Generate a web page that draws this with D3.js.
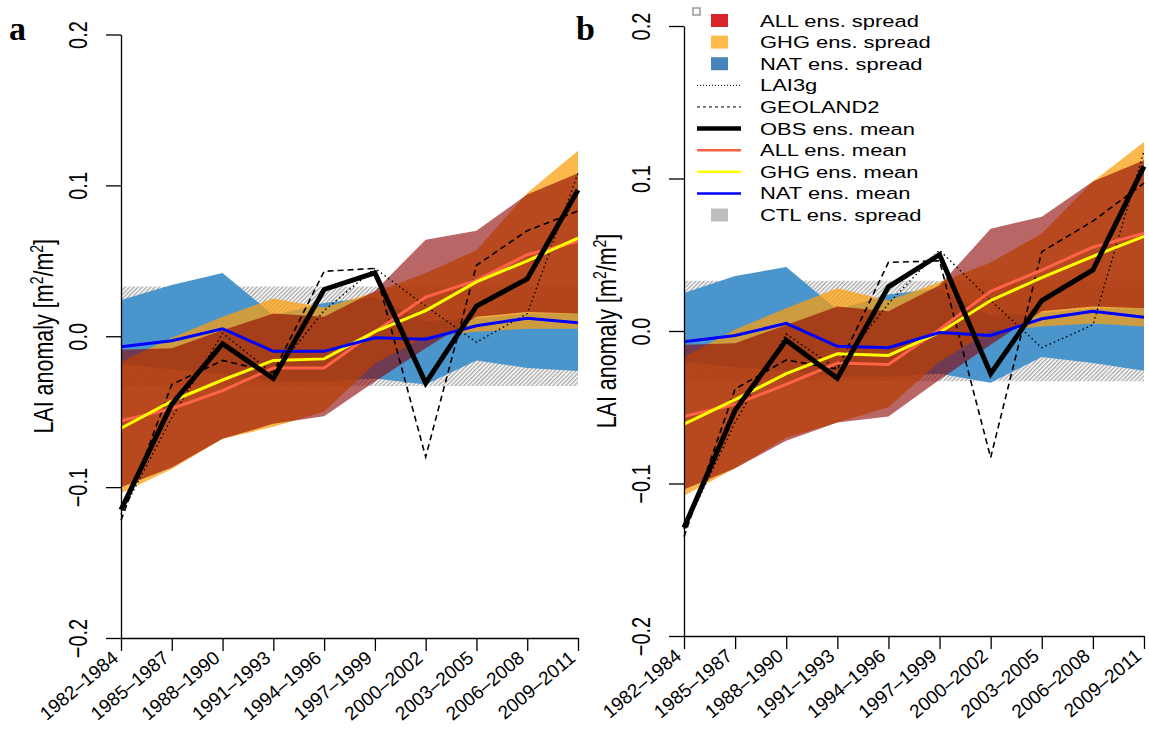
<!DOCTYPE html>
<html>
<head>
<meta charset="utf-8">
<title>LAI anomaly</title>
<script src="https://cdn.jsdelivr.net/npm/d3@7"></script>
<style>
  body { margin: 0; background: #fff; }
  text { font-family: "Liberation Sans", Arial, Helvetica, sans-serif; fill: #000; }
  .panel-letter { font-family: "Liberation Serif", "Times New Roman", serif; font-weight: bold; font-size: 34px; }
</style>
</head>
<body>
<script>
// periods on the x axis
var periods = ["1982\u20131984", "1985\u20131987", "1988\u20131990", "1991\u20131993", "1994\u20131996",
               "1997\u20131999", "2000\u20132002", "2003\u20132005", "2006\u20132008", "2009\u20132011"];
var yTicks = [-0.2, -0.1, 0, 0.1, 0.2];
var yTickLabels = ["\u22120.2", "\u22120.1", "0.0", "0.1", "0.2"];

// panel a
var obsA     = [-0.115, -0.045, -0.005, -0.028, 0.031, 0.042, -0.031, 0.020, 0.038, 0.097];
var lai3gA   = [-0.118, -0.054, 0.002, -0.025, 0.017, 0.045, 0.020, -0.004, 0.015, 0.108];
var geolandA = [-0.122, -0.032, -0.016, -0.024, 0.043, 0.045, -0.080, 0.047, 0.070, 0.083];
var allMeanA = [-0.056, -0.048, -0.036, -0.021, -0.021, 0.003, 0.026, 0.037, 0.054, 0.063];
var ghgMeanA = [-0.061, -0.043, -0.029, -0.016, -0.015, 0.003, 0.017, 0.036, 0.050, 0.065];
var natMeanA = [-0.007, -0.003, 0.005, -0.010, -0.010, -0.001, -0.002, 0.007, 0.012, 0.009];
var allHiA   = [-0.009, -0.008, 0.004, 0.015, 0.013, 0.030, 0.064, 0.070, 0.094, 0.108];
var allLoA   = [-0.100, -0.087, -0.068, -0.058, -0.053, -0.030, -0.008, 0.013, 0.016, 0.015];
var ghgHiA   = [-0.017, -0.001, 0.013, 0.025, 0.019, 0.029, 0.042, 0.057, 0.095, 0.123];
var ghgLoA   = [-0.104, -0.088, -0.068, -0.060, -0.050, -0.018, 0.000, 0.003, 0.005, 0.005];
var natHiA   = [0.024, 0.034, 0.042, 0.014, 0.022, 0.026, 0.010, 0.012, 0.015, 0.015];
var natLoA   = [-0.018, -0.022, -0.025, -0.030, -0.030, -0.028, -0.032, -0.016, -0.021, -0.023];

// panel b
var obsB     = [-0.129, -0.052, -0.006, -0.031, 0.029, 0.050, -0.028, 0.020, 0.040, 0.108];
var lai3gB   = [-0.130, -0.060, -0.002, -0.025, 0.018, 0.053, 0.020, -0.011, 0.004, 0.118];
var geolandB = [-0.135, -0.038, -0.019, -0.025, 0.045, 0.046, -0.083, 0.052, 0.072, 0.097];
var allMeanB = [-0.056, -0.048, -0.035, -0.021, -0.022, 0.001, 0.026, 0.040, 0.055, 0.064];
var ghgMeanB = [-0.061, -0.045, -0.028, -0.015, -0.016, -0.001, 0.020, 0.035, 0.049, 0.062];
var natMeanB = [-0.007, -0.003, 0.005, -0.010, -0.011, -0.001, -0.003, 0.008, 0.013, 0.009];
var allHiB   = [-0.009, -0.008, 0.004, 0.016, 0.013, 0.030, 0.067, 0.075, 0.098, 0.112];
var allLoB   = [-0.104, -0.090, -0.072, -0.060, -0.056, -0.032, -0.009, 0.013, 0.016, 0.015];
var ghgHiB   = [-0.017, 0.001, 0.015, 0.028, 0.020, 0.032, 0.045, 0.064, 0.098, 0.124];
var ghgLoB   = [-0.108, -0.090, -0.070, -0.060, -0.050, -0.020, 0.000, 0.003, 0.005, 0.003];
var natHiB   = [0.025, 0.036, 0.042, 0.014, 0.024, 0.028, 0.010, 0.012, 0.015, 0.015];
var natLoB   = [-0.020, -0.024, -0.026, -0.030, -0.030, -0.028, -0.034, -0.017, -0.021, -0.026];

// CTL spread band (same in both panels)
var ctlHi = [0.033, 0.033, 0.033, 0.033, 0.033, 0.033, 0.033, 0.033, 0.033, 0.033];
var ctlLo = [-0.033, -0.033, -0.033, -0.033, -0.033, -0.033, -0.033, -0.033, -0.033, -0.033];

var legendLabels = ["ALL ens. spread", "GHG ens. spread", "NAT ens. spread", "LAI3g", "GEOLAND2",
                    "OBS ens. mean", "ALL ens. mean", "GHG ens. mean", "NAT ens. mean", "CTL ens. spread"];

var SX = 1.3; // text in the picture is stretched sideways

var svg = d3.select("body").append("svg")
  .attr("width", 1149)
  .attr("height", 731);

var defs = svg.append("defs");
var pat = defs.append("pattern")
  .attr("id", "hatch")
  .attr("patternUnits", "userSpaceOnUse")
  .attr("width", 3)
  .attr("height", 3)
  .attr("patternTransform", "rotate(45)");
pat.append("rect").attr("width", 3).attr("height", 3).attr("fill", "#fff");
pat.append("rect").attr("width", 1.4).attr("height", 3).attr("fill", "#a8a8a8");

function drawPanel(p) {
  var g = svg.append("g");
  var x = d3.scalePoint().domain(periods).range(p.xr);
  var y = d3.scaleLinear().domain([-0.2, 0.2]).range(p.yr);

  function band(hi, lo) {
    return d3.area()
      .x(function(d, i) { return x(periods[i]); })
      .y0(function(d, i) { return y(lo[i]); })
      .y1(function(d, i) { return y(hi[i]); })(hi);
  }
  var line = d3.line()
    .x(function(d, i) { return x(periods[i]); })
    .y(function(d) { return y(d); });

  g.append("path").attr("d", band(ctlHi, ctlLo)).attr("fill", "url(#hatch)");
  g.append("path").attr("d", band(p.natHi, p.natLo)).attr("fill", "#4a95cc");
  g.append("path").attr("d", band(p.ghgHi, p.ghgLo)).attr("fill", "#fb9f11").attr("fill-opacity", 0.75);
  g.append("path").attr("d", band(p.allHi, p.allLo)).attr("fill", "#8b0000").attr("fill-opacity", 0.6);

  g.append("path").attr("d", line(p.lai3g)).attr("fill", "none").attr("stroke", "#000")
    .attr("stroke-width", 1.4).attr("stroke-dasharray", "1.5,3");
  g.append("path").attr("d", line(p.geoland)).attr("fill", "none").attr("stroke", "#000")
    .attr("stroke-width", 1.6).attr("stroke-dasharray", "6,4");
  g.append("path").attr("d", line(p.allMean)).attr("fill", "none").attr("stroke", "#ff6347").attr("stroke-width", 3);
  g.append("path").attr("d", line(p.ghgMean)).attr("fill", "none").attr("stroke", "#ffff00").attr("stroke-width", 3);
  g.append("path").attr("d", line(p.natMean)).attr("fill", "none").attr("stroke", "#0000ff").attr("stroke-width", 3);
  g.append("path").attr("d", line(p.obs)).attr("fill", "none").attr("stroke", "#000")
    .attr("stroke-width", 5).attr("stroke-linejoin", "miter");

  // y axis
  var ya = g.append("g")
    .attr("transform", "translate(" + p.xr[0] + ",0)")
    .call(d3.axisLeft(y).tickValues(yTicks).tickSize(15).tickSizeOuter(0)
      .tickFormat(function(d, i) { return yTickLabels[i]; }));
  ya.selectAll("path, line").attr("stroke", "#000").attr("stroke-width", 1.3);
  ya.selectAll("text")
    .attr("x", null).attr("dy", null).attr("y", null)
    .attr("text-anchor", "middle")
    .attr("font-size", 20)
    .attr("transform", "translate(-34,0) scale(" + SX + ",1) rotate(-90)");

  // x axis
  var xa = g.append("g")
    .attr("transform", "translate(0," + p.yr[0] + ")")
    .call(d3.axisBottom(x).tickSize(13).tickSizeOuter(0));
  xa.selectAll("path, line").attr("stroke", "#000").attr("stroke-width", 1.3);
  xa.selectAll("text")
    .attr("x", null).attr("dy", null).attr("y", null)
    .attr("text-anchor", "end")
    .attr("font-size", 19)
    .attr("transform", "translate(-2,22) rotate(-40)");

  // y title
  var t = g.append("text")
    .attr("text-anchor", "middle")
    .attr("font-size", 21.5)
    .attr("transform", "translate(" + p.titleX + "," + (p.yr[0] + p.yr[1]) / 2 + ") scale(" + SX + ",1) rotate(-90)");
  t.append("tspan").text("LAI anomaly [m");
  t.append("tspan").attr("font-size", 14).attr("dy", -8).text("2");
  t.append("tspan").attr("dy", 8).text("/m");
  t.append("tspan").attr("font-size", 14).attr("dy", -8).text("2");
  t.append("tspan").attr("dy", 8).text("]");

  svg.append("text").attr("class", "panel-letter")
    .attr("x", p.letterX).attr("y", 40).text(p.letter);
}

drawPanel({
  xr: [121, 578], yr: [638, 34.5], titleX: 53, letter: "a", letterX: 9,
  obs: obsA, lai3g: lai3gA, geoland: geolandA, allMean: allMeanA, ghgMean: ghgMeanA, natMean: natMeanA,
  allHi: allHiA, allLo: allLoA, ghgHi: ghgHiA, ghgLo: ghgLoA, natHi: natHiA, natLo: natLoA
});
drawPanel({
  xr: [684, 1144], yr: [636, 26], titleX: 616, letter: "b", letterX: 576,
  obs: obsB, lai3g: lai3gB, geoland: geolandB, allMean: allMeanB, ghgMean: ghgMeanB, natMean: natMeanB,
  allHi: allHiB, allLo: allLoB, ghgHi: ghgHiB, ghgLo: ghgLoB, natHi: natHiB, natLo: natLoB
});

// legend (panel b)
var lg = svg.append("g");
lg.append("rect").attr("x", 693).attr("y", 8).attr("width", 7).attr("height", 7)
  .attr("fill", "#fff").attr("stroke", "#999").attr("stroke-width", 1.5);
var legendStyles = [
  {type: "box", color: "#d7262a"},
  {type: "box", color: "#fdb94b"},
  {type: "box", color: "#4683ba"},
  {type: "line", color: "#000", width: 1, dash: "1,2"},
  {type: "line", color: "#000", width: 1, dash: "3,3"},
  {type: "line", color: "#000", width: 4.5},
  {type: "line", color: "#ff6347", width: 2.5},
  {type: "line", color: "#ffff00", width: 2.5},
  {type: "line", color: "#0000ff", width: 2.5},
  {type: "box", color: "#bebebe"}
];
var rowY = d3.scaleLinear().domain([0, 9]).range([20.5, 215]);
legendLabels.forEach(function(lab, i) {
  var s = legendStyles[i], cy = rowY(i);
  if (s.type === "box") {
    lg.append("rect").attr("x", 711).attr("y", cy - 6.5).attr("width", 17).attr("height", 13).attr("fill", s.color);
  } else {
    lg.append("line").attr("x1", 697).attr("x2", 741).attr("y1", cy).attr("y2", cy)
      .attr("stroke", s.color).attr("stroke-width", s.width)
      .attr("stroke-dasharray", s.dash || null);
  }
  lg.append("text")
    .attr("transform", "translate(760," + (cy + 6) + ") scale(1.33,1)")
    .attr("font-size", 16.5)
    .text(lab);
});
</script>
</body>
</html>
